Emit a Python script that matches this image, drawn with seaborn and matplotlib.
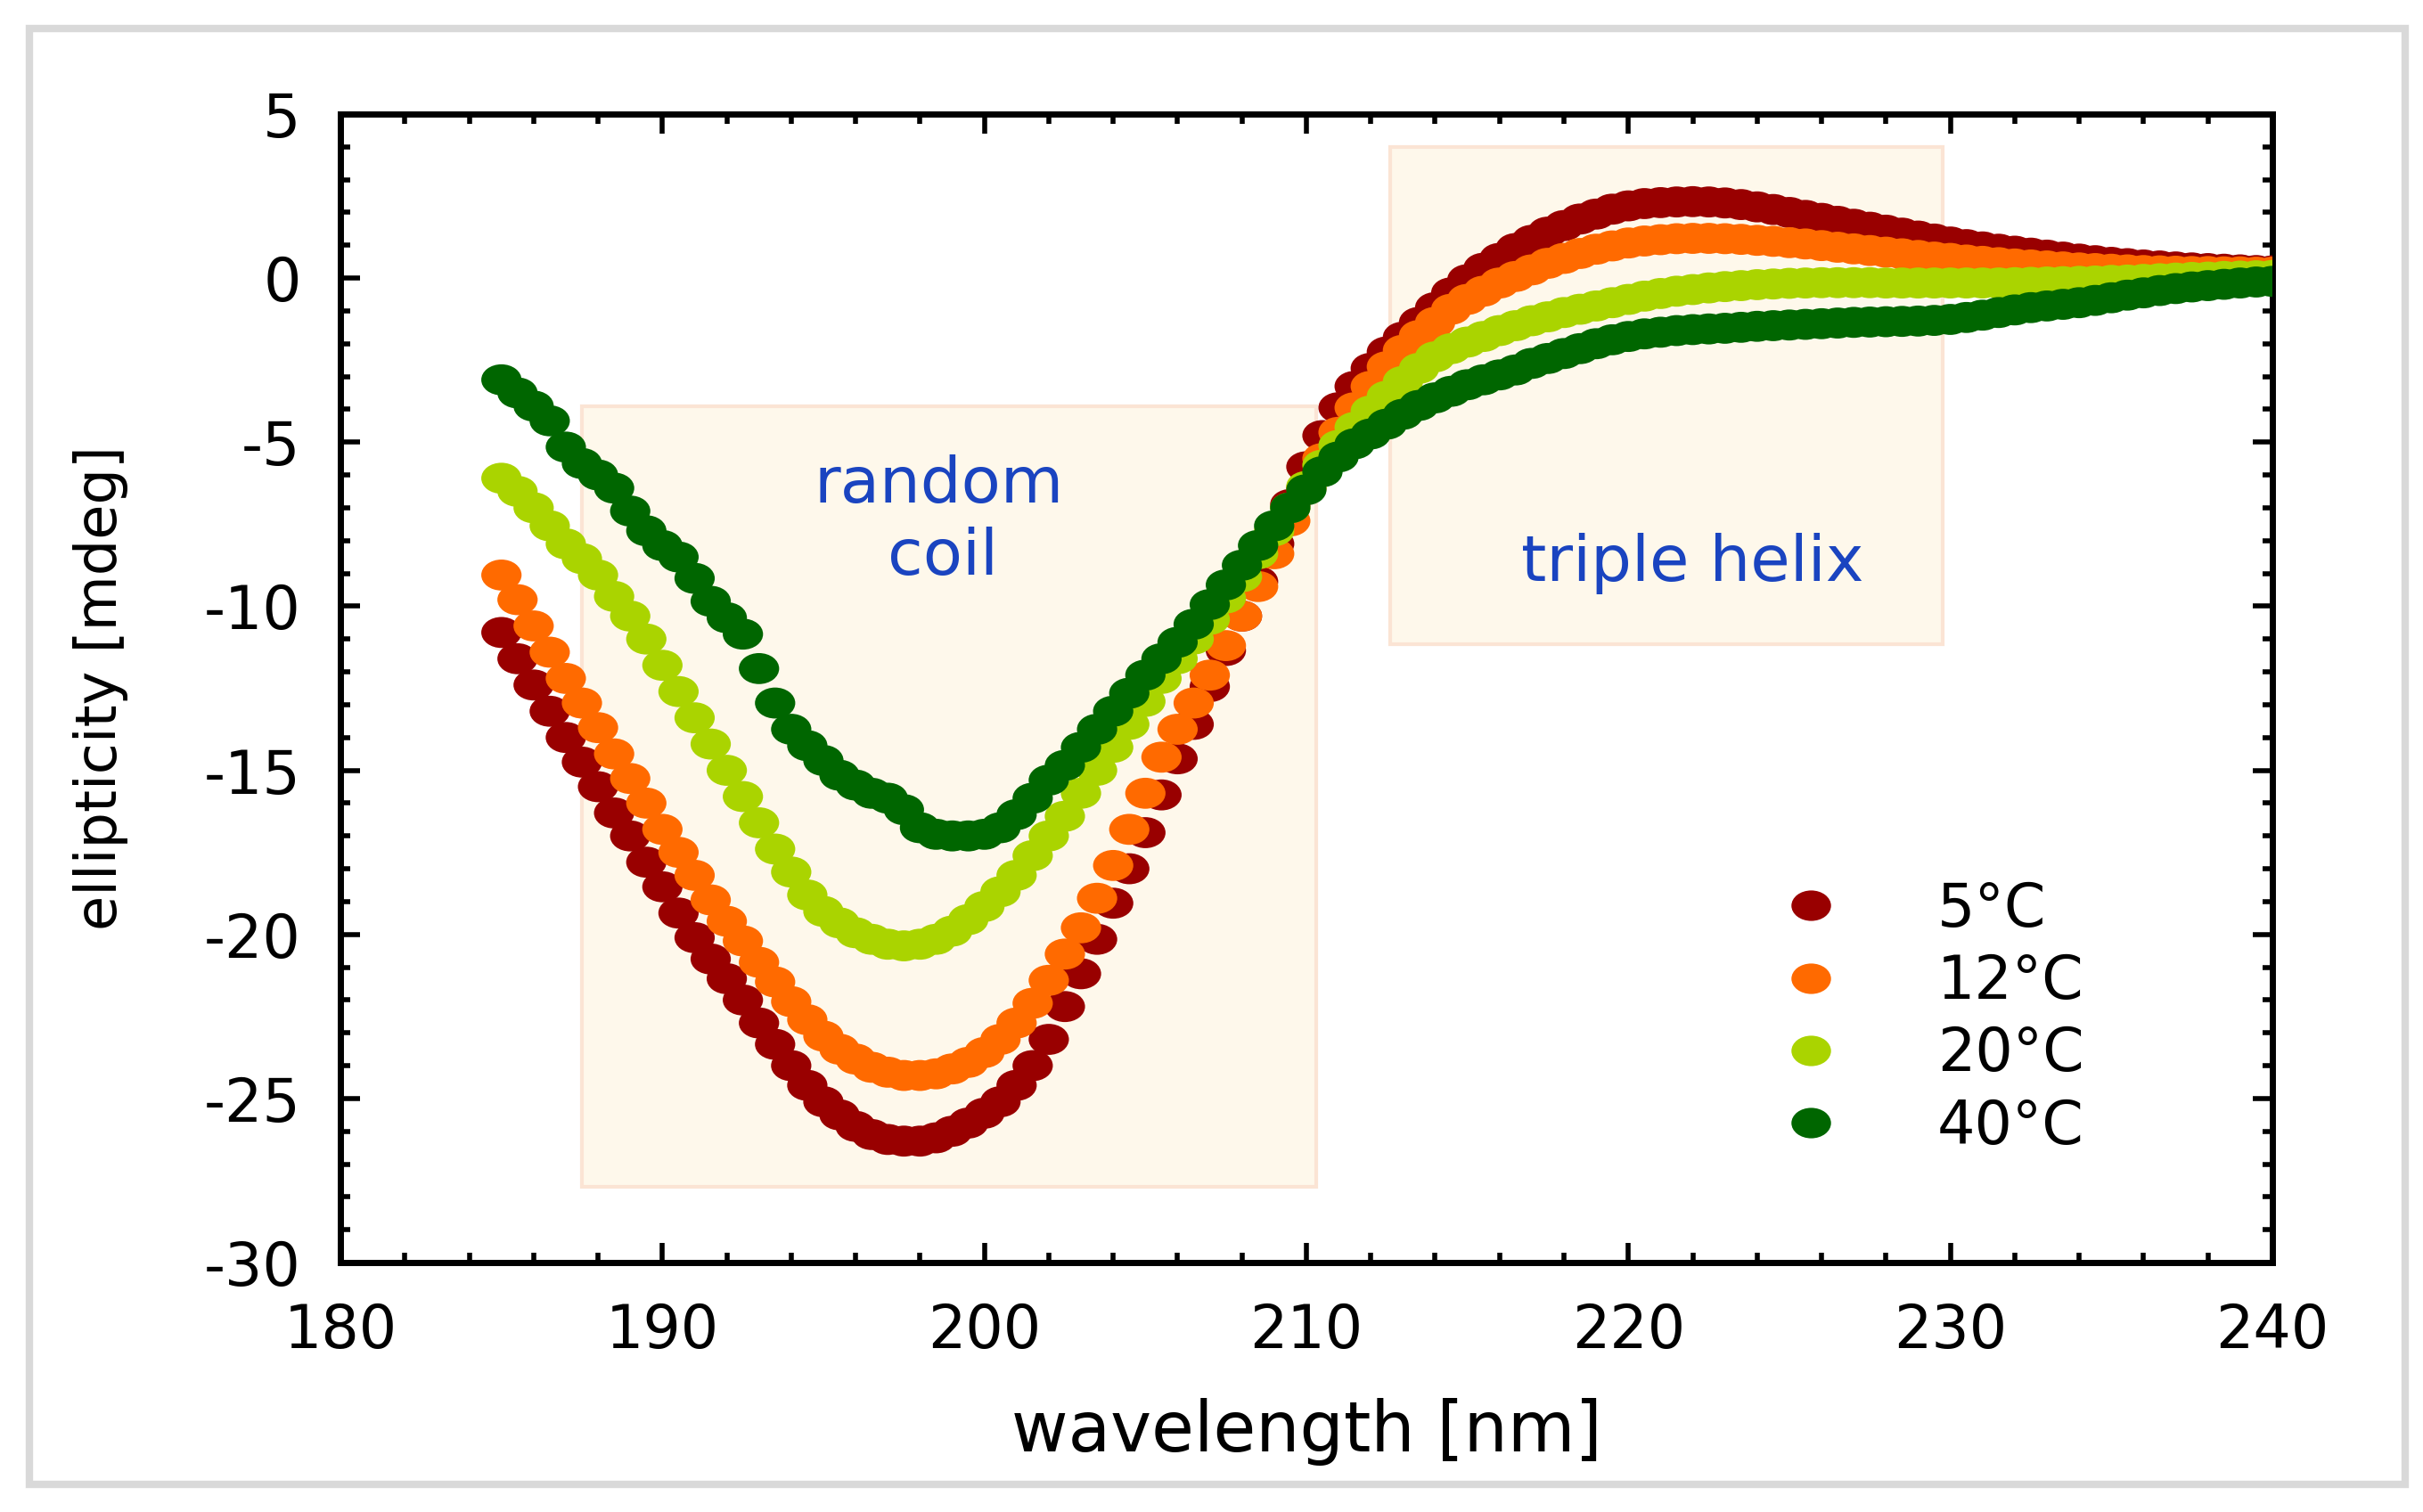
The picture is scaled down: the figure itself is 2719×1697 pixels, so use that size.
import numpy as np
import pandas as pd
import matplotlib
matplotlib.use("Agg")
import matplotlib.pyplot as plt
from matplotlib.patches import Rectangle
from matplotlib.path import Path
from matplotlib.transforms import Affine2D
from matplotlib.lines import Line2D
from matplotlib.ticker import MultipleLocator
import seaborn as sns

# CD spectra, one point every 0.5 nm from 185 to 240 nm
wavelength = np.arange(185, 240.01, 0.5)

temps = ["5°C", "12°C", "20°C", "40°C"]
colors = ["#990000", "#ff6a00", "#aad400", "#006600"]

ell_5 = [-10.8, -11.6, -12.4, -13.2, -14.0, -14.75, -15.5, -16.3, -17.0, -17.8,
         -18.55, -19.35, -20.1, -20.75, -21.35, -22.0, -22.7, -23.35, -24.0, -24.6,
         -25.1, -25.5, -25.85, -26.1, -26.25, -26.3, -26.3, -26.2, -26.0, -25.75,
         -25.45, -25.1, -24.6, -24.0, -23.2, -22.2, -21.2, -20.15, -19.05, -18.0,
         -16.9, -15.75, -14.65, -13.6, -12.45, -11.35, -10.3, -9.25, -8.1, -6.9,
         -5.75, -4.8, -3.95, -3.3, -2.75, -2.25, -1.8, -1.35, -0.9, -0.45,
         -0.05, 0.3, 0.6, 0.9, 1.15, 1.4, 1.6, 1.8, 1.95, 2.1,
         2.2, 2.27, 2.3, 2.32, 2.33, 2.32, 2.29, 2.24, 2.17, 2.09,
         2.0, 1.91, 1.82, 1.73, 1.64, 1.55, 1.46, 1.37, 1.28, 1.19,
         1.1, 1.02, 0.95, 0.88, 0.82, 0.76, 0.7, 0.64, 0.58, 0.53,
         0.48, 0.44, 0.4, 0.37, 0.34, 0.31, 0.29, 0.27, 0.25, 0.23,
         0.22]

ell_12 = [-9.05, -9.8, -10.6, -11.4, -12.2, -12.95, -13.7, -14.5, -15.25, -16.0,
          -16.8, -17.5, -18.2, -18.95, -19.6, -20.2, -20.85, -21.45, -22.05, -22.6,
          -23.1, -23.5, -23.8, -24.05, -24.2, -24.3, -24.3, -24.25, -24.1, -23.9,
          -23.6, -23.2, -22.7, -22.1, -21.4, -20.6, -19.8, -18.9, -17.9, -16.8,
          -15.7, -14.6, -13.75, -12.95, -12.1, -11.2, -10.3, -9.4, -8.4, -7.4,
          -6.4, -5.5, -4.7, -3.95, -3.3, -2.7, -2.2, -1.75, -1.35, -0.95,
          -0.65, -0.4, -0.15, 0.05, 0.25, 0.45, 0.6, 0.75, 0.88, 0.98,
          1.07, 1.13, 1.17, 1.2, 1.21, 1.21, 1.2, 1.18, 1.15, 1.12,
          1.08, 1.04, 0.99, 0.94, 0.89, 0.84, 0.79, 0.74, 0.69, 0.64,
          0.6, 0.55, 0.51, 0.47, 0.43, 0.4, 0.37, 0.34, 0.31, 0.29,
          0.27, 0.25, 0.23, 0.22, 0.21, 0.2, 0.2, 0.19, 0.19, 0.18,
          0.18]

ell_20 = [-6.1, -6.5, -7.0, -7.55, -8.1, -8.55, -9.05, -9.7, -10.3, -11.0,
          -11.8, -12.6, -13.4, -14.2, -15.0, -15.8, -16.6, -17.4, -18.1, -18.8,
          -19.3, -19.65, -19.95, -20.15, -20.3, -20.35, -20.3, -20.15, -19.9, -19.55,
          -19.15, -18.7, -18.2, -17.6, -17.0, -16.4, -15.7, -15.0, -14.3, -13.6,
          -12.9, -12.2, -11.6, -11.0, -10.4, -9.75, -9.1, -8.4, -7.7, -7.0,
          -6.35, -5.7, -5.1, -4.55, -4.05, -3.6, -3.15, -2.75, -2.4, -2.15,
          -1.95, -1.78, -1.6, -1.45, -1.3, -1.18, -1.05, -0.95, -0.85, -0.75,
          -0.65, -0.55, -0.47, -0.4, -0.35, -0.3, -0.26, -0.23, -0.2, -0.18,
          -0.16, -0.15, -0.14, -0.14, -0.14, -0.14, -0.15, -0.15, -0.15, -0.15,
          -0.15, -0.15, -0.15, -0.15, -0.14, -0.13, -0.12, -0.11, -0.1, -0.09,
          -0.07, -0.06, -0.04, -0.02, 0.0, 0.02, 0.03, 0.05, 0.06, 0.07,
          0.08]

ell_40 = [-3.1, -3.5, -3.9, -4.35, -5.15, -5.65, -6.0, -6.4, -7.1, -7.7,
          -8.15, -8.5, -9.15, -9.85, -10.35, -10.85, -11.9, -12.95, -13.75, -14.25,
          -14.7, -15.15, -15.45, -15.7, -15.85, -16.2, -16.75, -16.95, -17.0, -17.0,
          -16.95, -16.75, -16.35, -15.85, -15.3, -14.85, -14.3, -13.75, -13.2, -12.65,
          -12.1, -11.6, -11.1, -10.55, -9.95, -9.35, -8.75, -8.15, -7.55, -7.0,
          -6.45, -5.9, -5.45, -5.05, -4.75, -4.45, -4.15, -3.88, -3.65, -3.45,
          -3.25, -3.1, -2.95, -2.8, -2.6, -2.45, -2.3, -2.15, -2.0, -1.88,
          -1.78, -1.7, -1.65, -1.6, -1.57, -1.55, -1.53, -1.5, -1.47, -1.45,
          -1.43, -1.41, -1.39, -1.37, -1.35, -1.34, -1.33, -1.32, -1.31, -1.29,
          -1.26, -1.2, -1.13, -1.05, -0.97, -0.9, -0.85, -0.8, -0.75, -0.68,
          -0.6, -0.52, -0.45, -0.38, -0.32, -0.27, -0.23, -0.19, -0.15, -0.12,
          -0.1]

# shaded regions: (x0, x1, y0, y1)
coil_box = [187.5, 210.3, -27.7, -3.9]
helix_box = [212.6, 229.75, -11.15, 4.0]

x_ticks = [180, 190, 200, 210, 220, 230, 240]
y_ticks = [-30, -25, -20, -15, -10, -5, 0, 5]

sns.set_style("ticks")
plt.rcParams["font.family"] = ["DejaVu Sans"]
plt.rcParams["axes.unicode_minus"] = False
plt.rcParams["text.color"] = "black"
plt.rcParams["axes.labelcolor"] = "black"
plt.rcParams["xtick.color"] = "black"
plt.rcParams["ytick.color"] = "black"

df = pd.concat([
    pd.DataFrame({"wavelength": wavelength, "ellipticity": vals, "temp": t})
    for t, vals in zip(temps, [ell_5, ell_12, ell_20, ell_40])
], ignore_index=True)

# the source image is stretched sideways, so the dots are slightly oval
circ = Path.unit_circle()
dot = Path(Affine2D().scale(1.3, 1.0).transform(circ.vertices), circ.codes)

fig = plt.figure(figsize=(13.595, 8.485), dpi=200)
ax = fig.add_axes([0.1405, 0.165, 0.7973, 0.7596])

for box in [coil_box, helix_box]:
    ax.add_patch(Rectangle((box[0], box[2]), box[1] - box[0], box[3] - box[2],
                           facecolor="#fef8eb", edgecolor="#fbe4d4", lw=1.5, zorder=1))

sns.scatterplot(data=df, x="wavelength", y="ellipticity", hue="temp",
                hue_order=temps, palette=dict(zip(temps, colors)),
                marker=dot, s=265, linewidth=0, legend=False, ax=ax, zorder=3)

ax.text(198.6, -6.3, "random", ha="center", va="center", fontsize=26, color="#1a44c0", zorder=2)
ax.text(198.7, -8.5, "coil", ha="center", va="center", fontsize=26, color="#1a44c0", zorder=2)
ax.text(222.0, -8.7, "triple helix", ha="center", va="center", fontsize=26, color="#1a44c0", zorder=2)

ax.set_xlim(180, 240)
ax.set_ylim(-30, 5)
ax.set_xticks(x_ticks)
ax.set_yticks(y_ticks)
ax.xaxis.set_minor_locator(MultipleLocator(2))
ax.yaxis.set_minor_locator(MultipleLocator(1))
ax.tick_params(which="both", direction="in", top=True, right=True, width=2, color="black")
ax.tick_params(which="major", length=8)
ax.tick_params(which="minor", length=4)
ax.tick_params(axis="x", which="major", labelsize=24, pad=16)
ax.tick_params(axis="y", which="major", labelsize=24, pad=16)
for sp in ax.spines.values():
    sp.set_linewidth(2.5)
    sp.set_color("black")

ax.set_xlabel("wavelength [nm]", fontsize=28)
ax.set_ylabel("ellipticity [mdeg]", fontsize=23)
ax.xaxis.set_label_coords(0.5, -0.118)
ax.yaxis.set_label_coords(-0.110, 0.5)

handles = [Line2D([], [], marker=dot, markersize=16, linestyle="none",
                  markerfacecolor=c, markeredgewidth=0) for c in colors]
ax.legend(handles, temps, loc="upper left", bbox_to_anchor=(0.7352, 0.418),
          bbox_transform=fig.transFigure, frameon=False, fontsize=24,
          handlelength=1.0, handletextpad=1.62, labelspacing=0.23,
          borderpad=0, borderaxespad=0)

fig.add_artist(Rectangle((0.0121, 0.0183), 0.9805, 0.963, transform=fig.transFigure,
                         fill=False, edgecolor="#d9d9d9", lw=3))

fig.savefig("out.png", dpi=200)
